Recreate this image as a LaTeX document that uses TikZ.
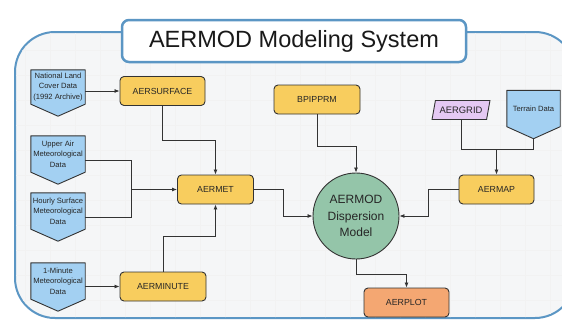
\documentclass[tikz,border=0pt]{standalone}
\usepackage{fontspec}
\setmainfont{Liberation Sans}
\usetikzlibrary{positioning,arrows.meta,backgrounds,shapes.geometric}

\definecolor{aeryellow}{HTML}{F8CD5E}
\definecolor{databl}{HTML}{A3D0F2}
\definecolor{modelgreen}{HTML}{94C5A9}
\definecolor{plotorange}{HTML}{F4A772}
\definecolor{gridviolet}{HTML}{E5C9F3}
\definecolor{frameblue}{HTML}{5B96C4}
\definecolor{panelgray}{HTML}{F5F6F7}
\definecolor{linegray}{HTML}{333333}

\begin{document}
\begin{tikzpicture}[x=1pt, y=-1pt,
  prog/.style={draw=linegray, fill=aeryellow, rounded corners=4pt,
    line width=0.9pt, minimum width=85pt, minimum height=29pt,
    inner sep=1pt, text=black!85, font=\fontsize{8.8}{10}\selectfont},
  datain/.style={minimum width=54pt, minimum height=36pt, inner sep=0pt,
    align=center, text=black!85, font=\fontsize{7.6}{10.4}\selectfont},
  datashape/.style={draw=linegray, fill=databl, line width=0.9pt},
  arr/.style={-{Latex[length=5pt,width=4pt]}, line width=0.8pt, draw=linegray},
  link/.style={line width=0.8pt, draw=linegray}
]
  \useasboundingbox (0,0) rectangle (562,325);

  % title
  \node[draw=frameblue, line width=2.5pt, fill=white, rounded corners=7pt,
    minimum width=344pt, minimum height=42pt, text=black!90,
    font=\fontsize{23.5}{28}\selectfont] (title) at (294,41)
    {AERMOD Modeling System};

  % input data
  \node[datain, minimum height=34pt] (nlcd) at (58,87)
    {National Land\\Cover Data\\(1992 Archive)};
  \node[datain] (upper) at (58,154) {Upper Air\\Meteorological\\Data};
  \node[datain] (hourly) at (58,211) {Hourly Surface\\Meteorological\\Data};
  \node[datain] (minute) at (58,281) {1-Minute\\Meteorological\\Data};
  \node[datain, minimum width=53pt] (terrain) at (533.5,108.5) {Terrain Data};
  \node[trapezium, trapezium left angle=67, trapezium right angle=113,
    trapezium stretches, draw=linegray, fill=gridviolet, line width=0.9pt,
    minimum width=58pt, minimum height=19pt, inner sep=0pt, text=black!85,
    font=\fontsize{9.4}{10}\selectfont] (aergrid) at (461,110) {AERGRID};

  % processors
  \node[prog] (aersurface) at (162.5,91) {AERSURFACE};
  \node[prog, minimum width=76pt] (aermet) at (215.5,189.5) {AERMET};
  \node[prog, minimum width=86pt] (aerminute) at (163,286.5) {AERMINUTE};
  \node[prog, minimum width=86pt] (bpipprm) at (317,99.5) {BPIPPRM};
  \node[prog, minimum width=75pt] (aermap) at (496.5,189.5) {AERMAP};
  \node[circle, draw=linegray, fill=modelgreen, line width=0.9pt,
    minimum size=86pt, inner sep=0pt, align=center, text=black!85,
    font=\fontsize{12}{16.5}\selectfont] (model) at (356,216)
    {AERMOD\\Dispersion\\Model};
  \node[prog, fill=plotorange] (aerplot) at (406.5,302.5) {AERPLOT};

  \begin{scope}[on background layer]
    \fill[white] (0,0) rectangle (562,325);
    \draw[frameblue, line width=2pt, fill=panelgray, rounded corners=40pt]
      (15,32) rectangle (575,318);
    \begin{scope}
      \clip[rounded corners=39pt] (16,33) rectangle (574,317);
      \draw[black!5, step=25pt] (15,32) grid (575,318);
    \end{scope}
    \foreach \n in {nlcd,upper,hourly,minute,terrain}
      \draw[datashape, line join=round] (\n.north west) -- (\n.north east)
        -- (\n.south east) -- ([yshift=-12pt]\n.south) -- (\n.south west) -- cycle;
  \end{scope}

  \coordinate (ttip) at ([yshift=-12pt]terrain.south);
  \coordinate (metjoin) at ([xshift=-46pt]aermet.west);
  \coordinate (mapjoin) at ([yshift=25pt]aermap.north);

  % connectors
  \draw[arr] (aersurface.west -| nlcd.east) -- (aersurface.west);
  \draw[arr] (aersurface.south) -- ++(0,34) -| (aermet.north);
  \draw[link] ([yshift=-6pt]upper.east) -| (metjoin);
  \draw[link] ([yshift=-6pt]hourly.east) -| (metjoin);
  \draw[arr] (metjoin) -- (aermet.west);
  \draw[arr] (aerminute.west -| minute.east) -- (aerminute.west);
  \draw[arr] (aerminute.north) -- ++(0,-35) -| (aermet.south);
  \draw[arr] (aermet.east) -- ++(29.5,0) |- (model.west);
  \draw[arr] (bpipprm.south) -- ++(0,32) -| (model.north);
  \draw[link] (aergrid.south) |- (mapjoin) -| (ttip);
  \draw[arr] (mapjoin) -- (aermap.north);
  \draw[arr] (aermap.west) -- ++(-30,0) |- (model.east);
  \draw[arr] (model.south) -- ++(0,15) -| (aerplot.north);
\end{tikzpicture}
\end{document}
